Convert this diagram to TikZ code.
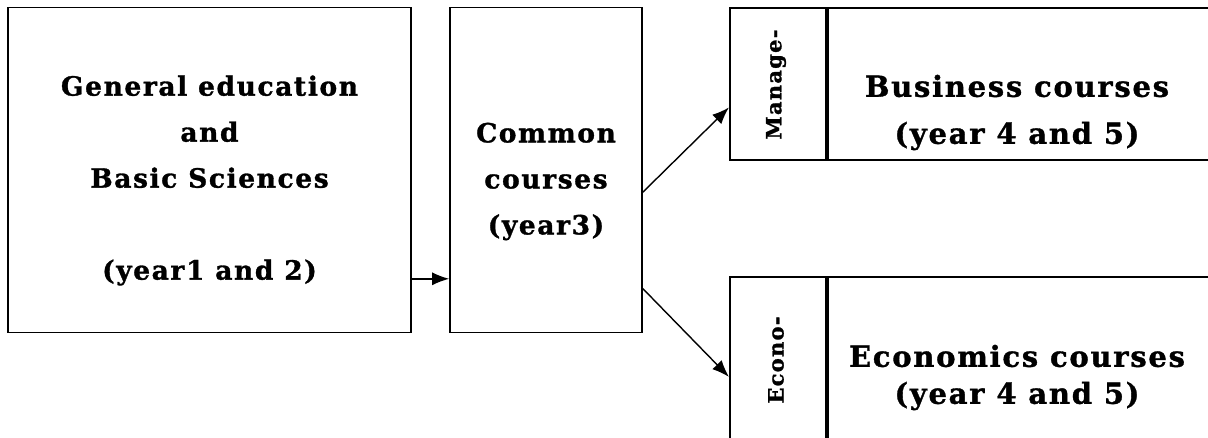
\documentclass[tikz,border=0pt]{standalone}
\usepackage{fontspec}
\newfontfamily\stagefont{DejaVu Serif}[LetterSpace=6,FakeBold=1.2]
\usetikzlibrary{positioning}
\usetikzlibrary{calc}
\usetikzlibrary{arrows.meta}

\begin{document}
\begin{tikzpicture}[x=1pt,y=-1pt,
	stage/.style={draw,line width=1.6pt,inner sep=0pt},
	words/.style={font=\stagefont\bfseries\fontsize{26.5}{46}\selectfont,align=center,inner sep=0pt},
	bigwords/.style={words,font=\stagefont\bfseries\fontsize{29}{47}\selectfont},
	tabwords/.style={font=\stagefont\bfseries\fontsize{21}{22}\selectfont,rotate=90,inner sep=0pt},
	flow/.style={-{Latex[length=17pt,width=13pt]},line width=1.4pt}]
		\clip (0,0) rectangle (1208,437);
		\node [stage,minimum width=403pt,minimum height=325pt] at (209.5,170) (general) {};
		\node [stage,minimum width=192pt,minimum height=325pt] at (546,170) (common) {};
		\node [stage,minimum width=96.5pt,minimum height=152.5pt] at (778,84) (mantab) {};
		\node [stage,minimum width=384pt,minimum height=152.5pt,right=0pt of mantab] (business) {};
		\node [stage,minimum width=96.5pt,minimum height=167.5pt] at (778,361) (ecotab) {};
		\node [stage,minimum width=384pt,minimum height=167.5pt,right=0pt of ecotab] (economics) {};
		\node [words] at (general.center) [yshift=-10.5pt] (generaltxt) {General education\\and\\Basic Sciences\\~\\(year1 and 2)};
		\node [words] at (common.center) [yshift=-11.5pt] (commontxt) {Common\\courses\\(year3)};
		\node [bigwords] at (1017,112.5) (businesstxt) {Business courses\\(year 4 and 5)};
		\node [bigwords,font=\stagefont\bfseries\fontsize{29}{37}\selectfont] at (1017,377.5) (economicstxt) {Economics courses\\(year 4 and 5)};
		\node [tabwords] at (776,84.5) (mantxt) {Manage-};
		\node [tabwords] at (776,360) (ecotxt) {Econo-};
		\draw [flow] ($(general.south east)+(0,-54.5)$) -- ($(common.south west)+(0,-54.5)$);
		\draw [flow] ($(common.north east)!0.568!(common.south east)$) -- ($(mantab.north west)!0.652!(mantab.south west)$);
		\draw [flow] ($(common.north east)!0.863!(common.south east)$) -- ($(ecotab.north west)!0.594!(ecotab.south west)$);
		\end{tikzpicture}
\end{document}
